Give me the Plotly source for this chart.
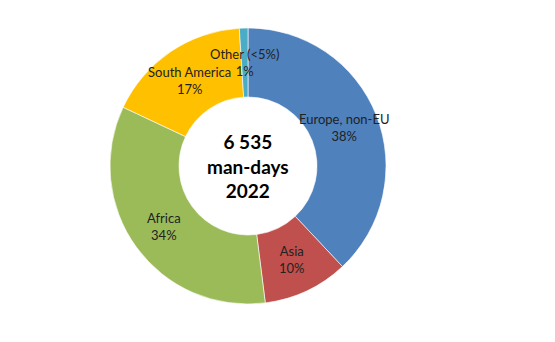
import math
import plotly.graph_objects as go

regions = ["Europe, non-EU", "Asia", "Africa", "South America", "Other (<5%)"]
shares = [38, 10, 34, 17, 1]
colors = ["#4F81BD", "#C0504D", "#9BBB59", "#FFC000", "#4BACC6"]
center_lines = ["6 535", "man-days", "2022"]

W, H = 555, 342
cx, cy, R = 248, 166, 138  # pixel centre (from top) and radius
hole = 0.5

dom_x = [(cx - R) / W, (cx + R) / W]
dom_y = [(H - cy - R) / H, (H - cy + R) / H]

fig = go.Figure(go.Pie(
    labels=regions,
    values=shares,
    sort=False,
    direction="clockwise",
    rotation=0,
    hole=hole,
    marker=dict(colors=colors, line=dict(color="rgba(255,255,255,0.6)", width=1)),
    textinfo="none",
    hoverinfo="label+percent",
    domain=dict(x=dom_x, y=dom_y),
    showlegend=False,
))

# data labels at mid-angle / mid-ring, computed from the values
total = sum(shares)
r_mid = R * (1 + hole) / 2
cum = 0
annotations = []
for name, v in zip(regions, shares):
    mid = (cum + v / 2) / total * 2 * math.pi
    cum += v
    px = cx + r_mid * math.sin(mid)
    py = cy - r_mid * math.cos(mid)
    annotations.append(dict(
        x=px / W, y=1 - py / H, xref="paper", yref="paper",
        text=f"{name}<br>{round(v / total * 100)}%",
        showarrow=False, font=dict(family="Lato", size=13, color="#222222"),
        xanchor="center", yanchor="middle",
    ))

annotations.append(dict(
    x=cx / W, y=1 - cy / H, xref="paper", yref="paper",
    text="<b>" + "<br>".join(center_lines) + "</b>",
    showarrow=False, font=dict(family="Lato", size=19, color="#000000"),
    xanchor="center", yanchor="middle",
))

fig.update_layout(
    width=W, height=H,
    margin=dict(l=0, r=0, t=0, b=0),
    paper_bgcolor="white",
    plot_bgcolor="white",
    annotations=annotations,
)

fig.write_html("out.html")
